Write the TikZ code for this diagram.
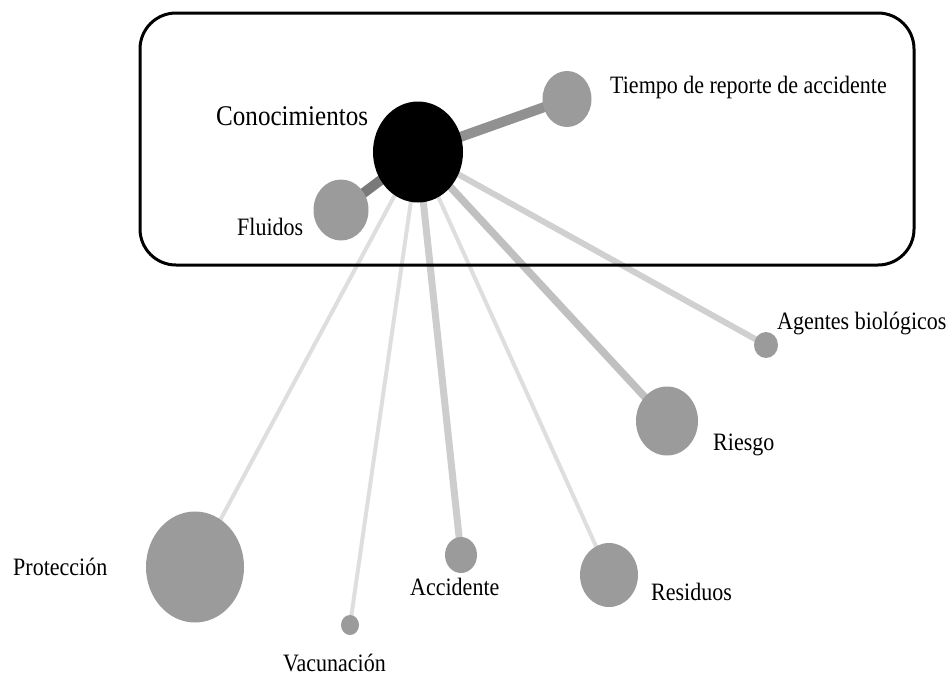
\documentclass[tikz,border=0pt]{standalone}
\usepackage{fontspec}
\setmainfont{Liberation Serif}[FakeStretch=0.88]
\usetikzlibrary{shapes.geometric}
\pgfdeclarelayer{bg}
\pgfsetlayers{bg,main}
\definecolor{hub}{HTML}{000000}
\definecolor{leaf}{HTML}{9B9B9B}
\tikzset{
  hubnode/.style={ellipse, fill=hub, inner sep=0pt},
  leafnode/.style={ellipse, fill=leaf, inner sep=0pt},
  lbl/.style={anchor=base west, inner sep=0pt, font=\fontsize{25}{28}\selectfont},
  biglbl/.style={anchor=base west, inner sep=0pt, font=\fontsize{28.5}{32}\selectfont},
  link/.style={line cap=butt},
  frame/.style={draw=black, line width=3pt, rounded corners=36pt}
}
\begin{document}
\begin{tikzpicture}[x=1pt, y=-1pt]
\useasboundingbox (0,0) rectangle (949,675);

% group frame around the central cluster
\node[frame, minimum width=774pt, minimum height=252pt, inner sep=0pt] (grp) at (527,139) {};

% nodes
\node[hubnode, minimum width=90pt, minimum height=101pt] (con) at (418,152) {};
\node[leafnode, minimum width=49pt, minimum height=56pt] (tie) at (567,99) {};
\node[leafnode, minimum width=55pt, minimum height=61pt] (flu) at (341,210) {};
\node[leafnode, minimum width=24pt, minimum height=26pt] (age) at (766,345) {};
\node[leafnode, minimum width=62pt, minimum height=69pt] (rie) at (667,421) {};
\node[leafnode, minimum width=98pt, minimum height=111pt] (pro) at (195,567) {};
\node[leafnode, minimum width=18pt, minimum height=20pt] (vac) at (350,625) {};
\node[leafnode, minimum width=32pt, minimum height=36pt] (acc) at (461,555) {};
\node[leafnode, minimum width=58pt, minimum height=64pt] (res) at (609,575) {};

% labels
\node[biglbl] (lcon) at (216,125) {Conocimientos};
\node[lbl] (ltie) at (610,93) {Tiempo de reporte de accidente};
\node[lbl] (lflu) at (237,235) {Fluidos};
\node[lbl] (lage) at (777,329) {Agentes biológicos};
\node[lbl] (lrie) at (713,450) {Riesgo};
\node[lbl] (lpro) at (13,575) {Protección};
\node[lbl] (lvac) at (283,671) {Vacunación};
\node[lbl] (lacc) at (410,595) {Accidente};
\node[lbl] (lres) at (651,600) {Residuos};

% weighted links, drawn beneath the nodes
\begin{pgfonlayer}{bg}
\draw[link, line width=10pt, color={rgb,255:red,145;green,145;blue,145}] (con.center) -- (tie.center);
\draw[link, line width=10pt, color={rgb,255:red,122;green,122;blue,122}] (con.center) -- (flu.center);
\draw[link, line width=6pt, color={rgb,255:red,208;green,208;blue,208}] (con.center) -- (age.center);
\draw[link, line width=7.5pt, color={rgb,255:red,192;green,192;blue,192}] (con.center) -- (rie.center);
\draw[link, line width=4pt, color={rgb,255:red,222;green,222;blue,222}] (con.center) -- (pro.center);
\draw[link, line width=4pt, color={rgb,255:red,222;green,222;blue,222}] (con.center) -- (vac.center);
\draw[link, line width=7pt, color={rgb,255:red,205;green,205;blue,205}] (con.center) -- (acc.center);
\draw[link, line width=4pt, color={rgb,255:red,222;green,222;blue,222}] (con.center) -- (res.center);
\end{pgfonlayer}
\end{tikzpicture}
\end{document}
